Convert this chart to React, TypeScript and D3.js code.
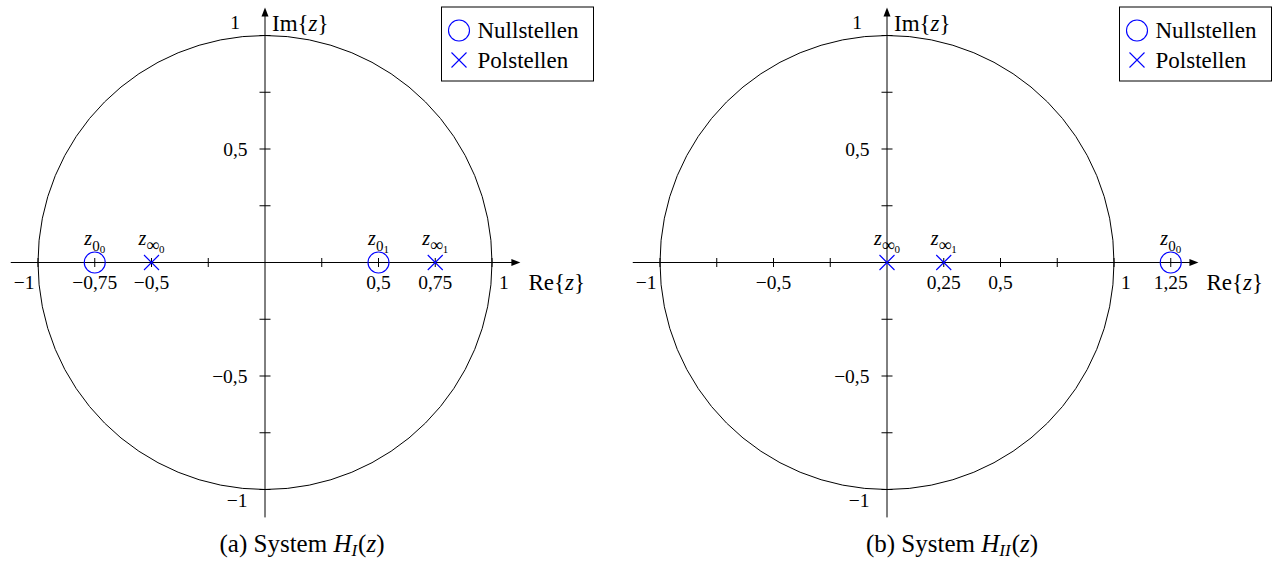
import * as d3 from "d3";

// values (unit circle, z-plane)
const zerosA = [-0.75, 0.5];
const polesA = [-0.5, 0.75];
const zerosB = [1.25];
const polesB = [0, 0.25];

const ticksX_A = [-1, -0.75, -0.5, -0.25, 0.25, 0.5, 0.75, 1];
const ticksX_B = [-1, -0.75, -0.5, -0.25, 0.25, 0.5, 0.75, 1, 1.25];
const ticksY = [-1, -0.75, -0.5, -0.25, 0.25, 0.5, 0.75, 1];

const xLabelsA = [
  { v: -1, t: "−1" },
  { v: -0.75, t: "−0,75" },
  { v: -0.5, t: "−0,5" },
  { v: 0.5, t: "0,5" },
  { v: 0.75, t: "0,75" },
  { v: 1, t: "1" },
];
const xLabelsB = [
  { v: -1, t: "−1" },
  { v: -0.5, t: "−0,5" },
  { v: 0.25, t: "0,25" },
  { v: 0.5, t: "0,5" },
  { v: 1, t: "1" },
  { v: 1.25, t: "1,25" },
];
const yLabels = [
  { v: 1, t: "1" },
  { v: 0.5, t: "0,5" },
  { v: -0.5, t: "−0,5" },
  { v: -1, t: "−1" },
];

const legendItems = ["Nullstellen", "Polstellen"];

const FONT = "'Liberation Serif', 'Times New Roman', serif";
const BLUE = "#0000ff";
const R = 227;

type Lab = { v: number; t: string };

function Cross({ px, py, s }: { px: number; py: number; s: number }) {
  return (
    <path
      d={`M${px - s},${py - s}L${px + s},${py + s}M${px - s},${py + s}L${px + s},${py - s}`}
      stroke={BLUE}
      strokeWidth={1.1}
      fill="none"
    />
  );
}

function PointLabel({ px, sym, i }: { px: number; sym: string; i: number }) {
  return (
    <text x={px} y={245} textAnchor="middle" fontFamily={FONT} fill="#000">
      <tspan fontStyle="italic" fontSize={20}>z</tspan>
      <tspan fontSize={sym === "∞" ? 18 : 15} dy={6}>{sym}</tspan>
      <tspan fontSize={11} dy={2}>{i}</tspan>
    </text>
  );
}

function Panel(props: {
  cx: number;
  cy: number;
  xMin: number;
  xMax: number;
  yExt: number;
  zeros: number[];
  poles: number[];
  xTicks: number[];
  xLabels: Lab[];
  legendLeft: number;
  caption: string;
  sub: string;
  captionX: number;
}) {
  const { cx, cy, zeros, poles, xTicks, xLabels } = props;
  const x = d3.scaleLinear().domain([-1, 1]).range([cx - R, cx + R]);
  const y = d3.scaleLinear().domain([-1, 1]).range([cy + R, cy - R]);
  const x0 = x(0);
  const y0 = y(0);
  const axEnd = x(props.xMax);
  const ayTop = y(props.yExt);
  const lx = props.legendLeft;

  return (
    <g>
      {/* unit circle */}
      <circle cx={x0} cy={y0} r={x(1) - x(0)} fill="none" stroke="#000" strokeWidth={1} />

      {/* axes */}
      <line x1={x(props.xMin)} x2={axEnd - 4} y1={y0} y2={y0} stroke="#000" strokeWidth={1} />
      <path d={`M${axEnd},${y0}L${axEnd - 9},${y0 - 3.5}L${axEnd - 9},${y0 + 3.5}Z`} fill="#000" />
      <line x1={x0} x2={x0} y1={y(-props.yExt)} y2={ayTop + 4} stroke="#000" strokeWidth={1} />
      <path d={`M${x0},${ayTop}L${x0 - 3.5},${ayTop + 9}L${x0 + 3.5},${ayTop + 9}Z`} fill="#000" />

      {xTicks.map((v) => (
        <line key={"xt" + v} x1={x(v)} x2={x(v)} y1={y0 - 4.5} y2={y0 + 4.5} stroke="#000" strokeWidth={1} />
      ))}
      {ticksY.map((v) => (
        <line key={"yt" + v} x1={x0 - 5.5} x2={x0 + 5.5} y1={y(v)} y2={y(v)} stroke="#000" strokeWidth={1} />
      ))}

      {/* tick labels */}
      {xLabels.map((d) => {
        let anchor = "middle";
        let px = x(d.v);
        if (d.v === -1) { anchor = "end"; px -= 3.5; }
        if (d.v === 1) { anchor = "start"; px += 7; }
        return (
          <text key={"xl" + d.v} x={px} y={y0 + 26} textAnchor={anchor} fontFamily={FONT} fontSize={19.5} fill="#000">
            {d.t}
          </text>
        );
      })}
      {yLabels.map((d) => {
        let px = x0 - 17.5;
        let py = y(d.v) + 6.5;
        if (d.v === 1) { px = x0 - 25; py = y(d.v) - 7; }
        if (d.v === -1) { py = y(d.v) + 17; }
        return (
          <text key={"yl" + d.v} x={px} y={py} textAnchor="end" fontFamily={FONT} fontSize={19.5} fill="#000">
            {d.t}
          </text>
        );
      })}

      {/* axis labels */}
      <text x={axEnd + 8} y={y0 + 27} fontFamily={FONT} fontSize={23} fill="#000">
        Re{"{"}<tspan fontStyle="italic">z</tspan>{"}"}
      </text>
      <text x={x0 + 7} y={31} fontFamily={FONT} fontSize={23} fill="#000">
        Im{"{"}<tspan fontStyle="italic">z</tspan>{"}"}
      </text>

      {/* zeros and poles */}
      {zeros.map((v, i) => (
        <g key={"z" + v}>
          <circle cx={x(v)} cy={y0} r={10.5} fill="none" stroke={BLUE} strokeWidth={1.1} />
          <PointLabel px={x(v)} sym="0" i={i} />
        </g>
      ))}
      {poles.map((v, i) => (
        <g key={"p" + v}>
          <Cross px={x(v)} py={y0} s={7.5} />
          <PointLabel px={x(v)} sym="∞" i={i} />
        </g>
      ))}

      {/* legend */}
      <rect x={lx} y={7} width={152} height={74} fill="#fff" stroke="#000" strokeWidth={1} />
      <circle cx={lx + 17.5} cy={30.5} r={10.5} fill="none" stroke={BLUE} strokeWidth={1.1} />
      <Cross px={lx + 17.5} py={60} s={7.5} />
      {legendItems.map((t, i) => (
        <text key={t} x={lx + 36} y={38 + i * 30} fontFamily={FONT} fontSize={23} fill="#000">
          {t}
        </text>
      ))}

      {/* caption */}
      <text x={props.captionX} y={552} textAnchor="middle" fontFamily={FONT} fontSize={25} fill="#000">
        {props.caption} <tspan fontStyle="italic">H</tspan>
        <tspan fontStyle="italic" fontSize={17} dy={4}>{props.sub}</tspan>
        <tspan dy={-4} dx={1}>(</tspan>
        <tspan fontStyle="italic">z</tspan>)
      </text>
    </g>
  );
}

export default function App() {
  return (
    <svg
      width={1279}
      height={562}
      viewBox="0 0 1279 562"
      style={{ position: "absolute", left: 0, top: 0, background: "#fff" }}
    >
      <rect width={1279} height={562} fill="#fff" />
      <Panel
        cx={265}
        cy={262.5}
        xMin={-1.12}
        xMax={1.125}
        yExt={1.123}
        zeros={zerosA}
        poles={polesA}
        xTicks={ticksX_A}
        xLabels={xLabelsA}
        legendLeft={441.5}
        caption="(a) System"
        sub="I"
        captionX={302}
      />
      <Panel
        cx={887}
        cy={262.5}
        xMin={-1.12}
        xMax={1.372}
        yExt={1.123}
        zeros={zerosB}
        poles={polesB}
        xTicks={ticksX_B}
        xLabels={xLabelsB}
        legendLeft={1119.5}
        caption="(b) System"
        sub="II"
        captionX={952}
      />
    </svg>
  );
}
